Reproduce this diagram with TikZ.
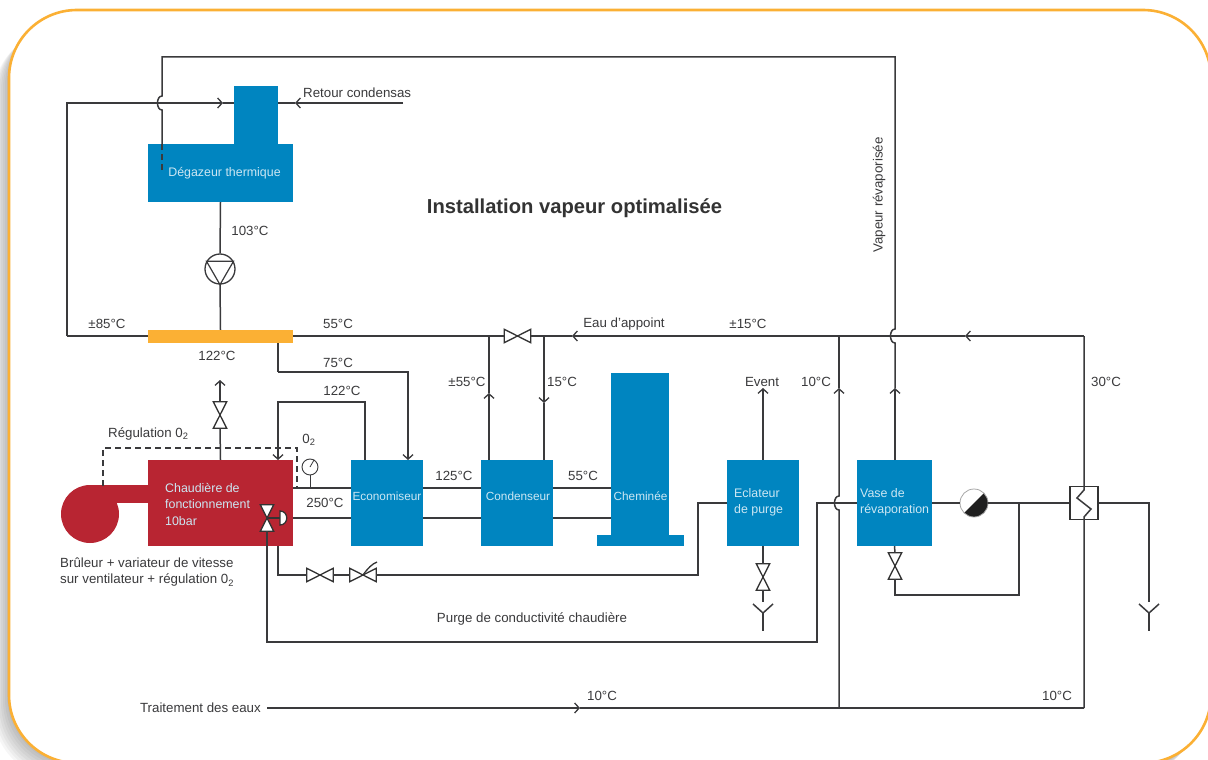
\documentclass[tikz,border=0pt]{standalone}
\usepackage{fontspec}
\setmainfont{Liberation Sans}
\usepackage{tikz}
\usetikzlibrary{arrows.meta,calc}

\definecolor{boxblue}{RGB}{0,133,192}
\definecolor{boxred}{RGB}{184,37,50}
\definecolor{framegold}{RGB}{251,176,52}
\definecolor{inkgray}{RGB}{58,58,60}

\tikzset{
  pipe/.style={line width=1.5pt,draw=inkgray},
  pipeto/.style={pipe,-{Straight Barb[length=4.5pt,width=10pt,line width=1.3pt]}},
  regul/.style={line width=1.5pt,draw=inkgray,dash pattern=on 6pt off 4pt},
  lbl/.style={font=\fontsize{13.3}{16}\selectfont,text=inkgray,inner sep=0pt,yshift=-1pt},
  boxlbl/.style={font=\fontsize{12.4}{16.5}\selectfont,text=white!80!boxblue,inner sep=0pt,align=left},
  tank/.style={fill=boxblue,draw=none,inner sep=0pt},
  symb/.style={line width=1.3pt,draw=black!80,fill=white}
}

% bowtie valves, horizontal and vertical
\newcommand{\valveh}[2]{
  \node[inner sep=0pt,minimum width=26pt,minimum height=13pt] (#1) at #2 {};
  \draw[symb] (#1.north west) -- (#1.south east) -- (#1.north east) -- (#1.south west) -- cycle;
}
\newcommand{\valvev}[2]{
  \node[inner sep=0pt,minimum width=13pt,minimum height=26pt] (#1) at #2 {};
  \draw[symb] (#1.north west) -- (#1.north east) -- (#1.south west) -- (#1.south east) -- cycle;
}

\begin{document}
\begin{tikzpicture}[x=1pt,y=-1pt]
  \useasboundingbox (0,0) rectangle (1208,760);
  \clip (0,0) rectangle (1208,760);

  % Frame with soft shadow
  \fill[white] (0,0) rectangle (1208,760);
  \foreach \d in {2,4,...,16} {
    \fill[black,opacity=0.035,rounded corners=68pt] (9-\d,14+\d) rectangle (1211-\d,763+\d);
  }
  \draw[draw=framegold,fill=white,line width=2.6pt,rounded corners=68pt] (9,10) rectangle (1211,763);

  % Vessels
  \node[tank,minimum width=44pt,minimum height=58pt] (degtop) at (256,115) {};
  \node[tank,minimum width=145pt,minimum height=58pt] (deg) at (220.5,173) {};
  \node[fill=framegold,inner sep=0pt,minimum width=145pt,minimum height=13pt] (plate) at (220.5,336.5) {};
  \node[fill=boxred,inner sep=0pt,minimum width=145pt,minimum height=86pt] (boiler) at (220.5,503) {};
  \node[circle,fill=boxred,inner sep=0pt,minimum size=58pt] (fan) at (90,514) {};
  \fill[boxred] (90,485) rectangle (149,503);
  \node[tank,minimum width=72pt,minimum height=86pt] (eco) at (387,503) {};
  \node[tank,minimum width=72pt,minimum height=86pt] (cond) at (517,503) {};
  \node[tank,minimum width=58pt,minimum height=173pt] (stack) at (640,459.5) {};
  \node[tank,minimum width=87pt,minimum height=11pt] (stackfoot) at (640.5,540.5) {};
  \node[tank,minimum width=72pt,minimum height=86pt] (flash) at (763,503) {};
  \node[tank,minimum width=75pt,minimum height=86pt] (vase) at (894.5,503) {};

  % Junction points
  \coordinate (topleft) at (162,57);
  \coordinate (topright) at (895,57);
  \coordinate (jumpa) at (162,96);
  \coordinate (jumpb) at (162,110);
  \coordinate (degin) at (162,144);
  \coordinate (degdip) at (162,173);
  \coordinate (retl) at (67,103);
  \coordinate (retlow) at (67,336);
  \coordinate (retarr) at (223,103);
  \coordinate (retin) at (234,103);
  \coordinate (condin) at (278,103);
  \coordinate (condarr) at (295,103);
  \coordinate (condend) at (403,103);
  \coordinate (plateout) at (278,343);
  \coordinate (hota) at (278,372);
  \coordinate (hotb) at (408,372);
  \coordinate (ecotop) at (408,460);
  \coordinate (ecoout) at (365,460);
  \coordinate (ecoup) at (365,402);
  \coordinate (bret) at (278,402);
  \coordinate (bin) at (278,460);
  \coordinate (ventarr) at (220,380);
  \coordinate (bleft) at (293,488);
  \coordinate (eleft) at (351,488);
  \coordinate (bleftb) at (293,518);
  \coordinate (eleftb) at (351,518);
  \coordinate (eright) at (423,488);
  \coordinate (crleft) at (481,488);
  \coordinate (erightb) at (423,518);
  \coordinate (crleftb) at (481,518);
  \coordinate (cright) at (553,488);
  \coordinate (stleft) at (611,488);
  \coordinate (crightb) at (553,518);
  \coordinate (stleftb) at (611,518);
  \coordinate (feedr) at (1084,336);
  \coordinate (feedarr) at (965,336);
  \coordinate (feedmain) at (572,336);
  \coordinate (feedx) at (839,336);
  \coordinate (teea) at (489,336);
  \coordinate (teeb) at (544,336);
  \coordinate (conda) at (489,460);
  \coordinate (condb) at (544,460);
  \coordinate (condaarr) at (489,393);
  \coordinate (condbarr) at (544,403);
  \coordinate (plateright) at (293,336);
  \coordinate (plateleft) at (148,336);
  \coordinate (flashout) at (763,388);
  \coordinate (blowin) at (727,503);
  \coordinate (blowa) at (698,503);
  \coordinate (blowb) at (698,575);
  \coordinate (blowc) at (278,575);
  \coordinate (blowd) at (278,546);
  \coordinate (cdpa) at (267,642);
  \coordinate (cdpb) at (817,642);
  \coordinate (cdpc) at (817,503);
  \coordinate (cdpd) at (857,503);
  \coordinate (treata) at (267,708);
  \coordinate (treatarr) at (580,708);
  \coordinate (treatx) at (839,708);
  \coordinate (treatb) at (1084,708);
  \coordinate (upx) at (839,388);
  \coordinate (upxa) at (839,496);
  \coordinate (upxb) at (839,510);
  \coordinate (vapa) at (895,329);
  \coordinate (vapb) at (895,343);
  \coordinate (vaparr) at (895,388);
  \coordinate (vapin) at (895,460);
  \coordinate (vout) at (932,503);
  \coordinate (branch) at (1019,503);
  \coordinate (brancha) at (1019,595);
  \coordinate (branchb) at (895,595);
  \coordinate (hxr) at (1149,503);
  \coordinate (dropstop) at (1149,602);
  \coordinate (dropend) at (1149,631);
  \coordinate (dropy) at (1149,613);
  \coordinate (flashstop) at (763,602);
  \coordinate (flashy) at (763,613);
  \coordinate (flashend) at (763,631);
  \coordinate (regstart) at (103,486);
  \coordinate (rega) at (103,448);
  \coordinate (regb) at (297,448);
  \coordinate (regend) at (297,488);

  % Steam loop and condensate return
  \draw[pipeto] (vapin) -- (vaparr);
  \draw[pipe] (vaparr) -- (vapb) .. controls (889,343) and (889,329) .. (vapa) -- (topright) -- (topleft) -- (jumpa)
    .. controls (156,96) and (156,110) .. (jumpb) -- (degin);
  \draw[regul] (degin) -- (degdip);
  \draw[pipeto] (retlow) -- (retl) -- (retarr);
  \draw[pipe] (retlow) -- (plateleft);
  \draw[pipe] (retarr) -- (retin);
  \draw[pipeto] (condend) -- (condarr);
  \draw[pipe] (condarr) -- (condin);

  % Feed pump
  \node[circle,draw=inkgray,line width=1.3pt,fill=white,inner sep=0pt,minimum size=30pt] (pump) at (220,269) {};
  \draw[line width=1.2pt,draw=inkgray] (pump.150) -- (pump.30) -- (pump.south) -- cycle;
  \draw[pipe] (deg.south) -- (pump.north);
  \draw[pipe] (pump.south) -- (plate.north);

  % Economiser and boiler water
  \draw[pipe] (plateout) -- (hota);
  \draw[pipeto] (hota) -- (hotb) -- (ecotop);
  \draw[pipeto] (ecoout) -- (ecoup) -- (bret) -- (bin);
  \valvev{ventvalve}{(220,415)}
  \draw[pipe] (boiler.north) -- (ventvalve.south);
  \draw[pipeto] (ventvalve.north) -- (ventarr);

  % Flue gas path
  \draw[pipe] (bleft) -- (eleft);
  \draw[pipe] (bleftb) -- (eleftb);
  \draw[pipe] (eright) -- (crleft);
  \draw[pipe] (erightb) -- (crleftb);
  \draw[pipe] (cright) -- (stleft);
  \draw[pipe] (crightb) -- (stleftb);

  % Make-up water line
  \draw[pipeto] (feedr) -- (feedarr);
  \draw[pipeto] (feedarr) -- (feedmain);
  \valveh{feedvalve}{(517.5,336)}
  \draw[pipe] (feedmain) -- (feedvalve.east);
  \draw[pipe] (feedvalve.west) -- (plateright);
  \draw[pipeto] (conda) -- (condaarr);
  \draw[pipe] (condaarr) -- (teea);
  \draw[pipeto] (teeb) -- (condbarr);
  \draw[pipe] (condbarr) -- (condb);

  % Flash vessel and blowdown
  \draw[pipeto] (flash.north) -- (flashout);
  \valvev{flashvalve}{(763,577)}
  \draw[pipe] (flash.south) -- (flashvalve.north);
  \draw[pipe] (flashvalve.south) -- (flashstop);
  \draw[pipe] (flashy) -- (flashend);
  \draw[pipe] ([shift={(-10,-9)}]flashy) -- (flashy) -- ([shift={(10,-9)}]flashy);
  \valveh{blowa1}{(320,575)}
  \valveh{blowa2}{(363,575)}
  \draw[line width=1.3pt,draw=black!80] (blowa2.center) .. controls (368,568) and (372,564) .. (377,562);
  \draw[pipe] (blowin) -- (blowa) -- (blowb) -- (blowa2.east);
  \draw[pipe] (blowa2.west) -- (blowa1.east);
  \draw[pipe] (blowa1.west) -- (blowc) -- (blowd);

  % Three-way valve and conductivity purge
  \valvev{threeway}{(267,518)}
  \draw[line width=1.3pt,draw=black!80] (threeway.center) -- (280,518);
  \draw[symb] (280,511) .. controls (289,511) and (289,525) .. (280,525) -- cycle;
  \draw[pipe] (threeway.south) -- (cdpa) -- (cdpb) -- (cdpc) -- (cdpd);

  % Water treatment
  \draw[pipeto] (treata) -- (treatarr);
  \draw[pipe] (treatarr) -- (treatb);
  \draw[pipeto] (treatx) -- (upxb) .. controls (833,510) and (833,496) .. (upxa) -- (upx);
  \draw[pipe] (upx) -- (feedx);

  % Expansion vessel, pump, exchanger
  \node[circle,draw=black!35,line width=0.8pt,fill=white,inner sep=0pt,minimum size=28pt,
    path picture={\fill[black!88] (path picture bounding box.north east) -- (path picture bounding box.south west) -- (path picture bounding box.south east) -- cycle;}] (bal) at (974,503) {};
  \node[symb,inner sep=0pt,minimum width=28pt,minimum height=33pt] (hx) at (1084,503) {};
  \draw[pipe] (vout) -- (bal.west);
  \draw[pipe] (bal.east) -- (hx.west);
  \draw[pipe] (hx.east) -- (hxr) -- (dropstop);
  \draw[pipe] (dropy) -- (dropend);
  \draw[pipe] ([shift={(-10,-9)}]dropy) -- (dropy) -- ([shift={(10,-9)}]dropy);
  \draw[pipe] (treatb) -- (hx.south) -- (1084,517) -- (1091,509) -- (1077,498) -- (1084,490) -- (hx.north) -- (feedr);
  \valvev{vasevalve}{(895,566)}
  \draw[pipe] (vase.south) -- (vasevalve.north);
  \draw[pipe] (vasevalve.south) -- (branchb) -- (brancha) -- (branch);

  % O2 regulation
  \draw[regul] (regstart) -- (rega) -- (regb) -- (regend);
  \node[circle,draw=inkgray,line width=0.9pt,fill=white,inner sep=0pt,minimum size=16pt] (gauge) at (310,467) {};
  \draw[line width=0.8pt,draw=inkgray] (gauge.center) -- (gauge.60);
  \draw[line width=0.8pt,draw=inkgray] (gauge.south) -- (310,488);

  % Labels
  \node[font=\fontsize{20.2}{24}\selectfont\bfseries,text=black!80,inner sep=0pt] (title) at (574.5,208) {Installation vapeur optimalisée};
  \node[lbl,anchor=west] (lretour) at (303,92) {Retour condensas};
  \node[lbl] (t103) at (250,230) {103°C};
  \node[lbl] (t85) at (107,323) {±85°C};
  \node[lbl] (t55a) at (338,323) {55°C};
  \node[lbl] (t122a) at (217,355) {122°C};
  \node[lbl] (t75) at (338,362) {75°C};
  \node[lbl] (t122b) at (342,390) {122°C};
  \node[lbl,anchor=west] (lreg) at (108,433) {Régulation 0\textsubscript{2}};
  \node[lbl] (lotwo) at (309,439) {0\textsubscript{2}};
  \node[lbl] (t250) at (325,502) {250°C};
  \node[lbl] (t125) at (454,475) {125°C};
  \node[lbl] (t55b) at (583,475) {55°C};
  \node[lbl] (tp55) at (467,381) {±55°C};
  \node[lbl] (t15) at (562,381) {15°C};
  \node[lbl] (leau) at (624,323) {Eau d'appoint};
  \node[lbl] (tp15) at (748,323) {±15°C};
  \node[lbl] (levent) at (762,381) {Event};
  \node[lbl] (t10a) at (816,381) {10°C};
  \node[lbl] (t30) at (1106,381) {30°C};
  \node[lbl,rotate=90] (lvap) at (879,194) {Vapeur révaporisée};
  \node[lbl,anchor=west,align=left] (lburn) at (60,571.5) {Brûleur + variateur de vitesse\\sur ventilateur + régulation 0\textsubscript{2}};
  \node[lbl] (lpurge) at (532,618) {Purge de conductivité chaudière};
  \node[lbl,anchor=east] (ltrait) at (261,707) {Traitement des eaux};
  \node[lbl] (t10b) at (602,695) {10°C};
  \node[lbl] (t10c) at (1057,695) {10°C};

  % Vessel names
  \node[boxlbl] (ndeg) at (224.5,173) {Dégazeur thermique};
  \node[boxlbl,anchor=west] (nboil) at (165,504) {Chaudière de\\fonctionnement\\10bar};
  \node[boxlbl,font=\fontsize{11.8}{15}\selectfont] (neco) at (387,496) {Economiseur};
  \node[boxlbl,font=\fontsize{11.8}{15}\selectfont] (ncond) at (518,496) {Condenseur};
  \node[boxlbl,font=\fontsize{11.8}{15}\selectfont] (nstack) at (640.5,496) {Cheminée};
  \node[boxlbl,anchor=west] (nflash) at (734,502.5) {Eclateur\\de purge};
  \node[boxlbl,anchor=west] (nvase) at (860,502.5) {Vase de\\révaporation};
\end{tikzpicture}
\end{document}
